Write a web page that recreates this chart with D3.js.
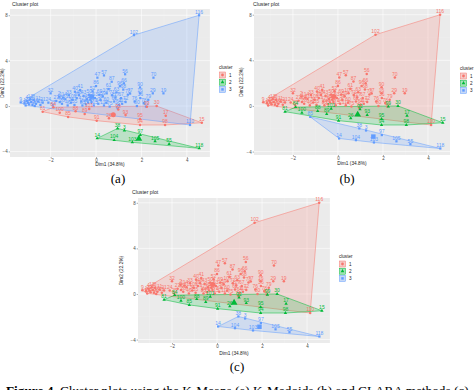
<!DOCTYPE html>
<html>
<head>
<meta charset="utf-8">
<script src="https://cdn.jsdelivr.net/npm/d3@7"></script>
<style>
  body { margin: 0; background: #fff; }
  svg { display: block; }
</style>
</head>
<body>
<script>
// observations: [row label, Dim1, Dim2]
var observations = [
  ["116", 4.54, 8.0], ["102", 1.67, 6.25], ["9", -3.32, 0.32], ["110", 4.14, -1.67],
  ["1", -3.15, 0.25], ["4", -3.05, 0.45], ["5", -2.95, 0.15], ["6", -2.85, 0.35],
  ["8", -2.75, 0.55], ["10", -2.65, 0.2], ["11", -2.55, 0.4], ["12", -3.1, 0.05],
  ["13", -2.9, 0.6], ["18", -2.45, 0.1], ["20", -2.7, 0.0], ["21", -2.35, 0.3],
  ["22", -3.0, 0.3], ["23", -2.8, 0.1], ["32", -2.0, 1.12], ["2", -1.62, 0.82],
  ["24", -2.1, 0.3], ["25", -1.9, 0.05], ["27", -1.75, 0.45], ["28", -1.5, 0.2],
  ["31", -1.35, 0.6], ["33", -1.2, 0.95], ["34", -1.1, 0.3], ["35", -0.95, 0.1],
  ["39", -0.85, 0.7], ["40", -0.93, 1.26], ["41", -0.7, 1.41], ["42", -0.65, 0.4],
  ["43", -0.55, 0.9], ["44", -0.45, 0.15], ["45", -0.4, 0.6], ["46", -1.25, 0.05],
  ["48", -0.75, 0.95], ["49", -1.6, 0.35], ["50", -0.3, 1.0], ["51", -0.2, 0.35],
  ["52", -0.15, 1.3], ["53", -0.05, 0.7], ["86", 0.0, 1.76], ["47", 0.06, 2.5],
  ["57", 0.35, 2.7], ["87", 0.69, 2.14], ["107", 0.47, 1.12], ["71", 0.7, 0.95],
  ["54", 0.1, 0.2], ["58", 0.2, 0.55], ["59", 0.3, 0.85], ["60", 0.45, 0.3],
  ["61", 0.55, 1.5], ["62", 0.8, 0.4], ["63", 0.9, 1.2], ["64", 1.0, 0.1],
  ["67", 1.1, 0.7], ["68", 1.2, 1.45], ["56", 1.28, 2.8], ["66", 1.23, 2.0],
  ["96", 1.05, 1.75], ["72", 1.3, 0.35], ["73", 1.4, 1.0], ["77", 1.5, 1.1],
  ["74", 0.95, -0.2], ["75", 0.6, -0.05], ["70", 2.53, 2.5], ["90", 1.94, 1.64],
  ["29", 2.5, 1.12], ["19", 2.97, 1.12], ["16", 1.94, 1.12], ["36", 1.95, 0.7],
  ["76", 1.7, 0.4], ["78", 2.1, 0.25], ["79", 2.3, 0.55], ["80", 1.8, 0.0],
  ["82", 2.2, -0.05], ["83", -0.6, 0.05], ["65", -0.25, 0.55], ["69", 0.15, 1.0],
  ["109", -1.05, 0.55], ["108", -0.35, 0.3], ["112", 0.35, 0.05], ["113", 1.15, 0.2],
  ["114", -1.45, 0.75], ["115", -0.1, 0.05], ["117", 0.85, 0.75],
  // middle band
  ["81", -2.35, -0.5], ["84", -1.88, -0.1], ["85", -1.23, -0.96], ["88", -0.9, -0.45],
  ["89", -0.5, -0.7], ["91", 0.03, -1.29], ["26", 0.57, -1.08], ["92", 0.98, -0.3],
  ["93", 1.3, -0.8], ["94", 1.94, -1.67], ["95", 1.94, -1.15], ["17", 3.07, -0.85],
  ["30", 2.67, 0.0], ["15", 4.66, -1.47], ["98", 3.04, -1.67], ["99", 2.24, -0.06],
  ["100", -1.6, -0.6], ["101", -0.3, -0.25],
  // lower group
  ["14", 0.05, -2.85], ["38", 0.95, -1.97], ["3", 1.25, -2.15], ["97", 1.95, -2.55],
  ["55", 3.22, -3.35], ["118", 4.55, -3.73], ["103", 1.6, -3.2], ["104", 0.8, -3.0],
  ["105", 2.6, -3.1]
];

// cluster membership per method, same order as observations
var kmeansCluster = [
  3,3,3,3,3,3,3,3,3,3,3,3,3,3,3,3,3,3,3,3,3,3,3,3,3,3,3,3,3,3,3,3,3,3,3,3,3,3,3,3,3,3,3,3,
  3,3,3,3,3,3,3,3,3,3,3,3,3,3,3,3,3,3,3,3,3,3,3,3,3,3,3,3,3,3,3,3,3,3,3,3,3,3,3,3,3,3,3,
  1,1,1,1,1,1,1,1,1,1,1,1,1,1,1,1,1,1,
  2,2,2,2,2,2,2,2,2
];
var kmedoidsCluster = [
  1,1,1,1,1,1,1,1,1,1,1,1,1,1,1,1,1,1,1,1,1,1,1,1,1,1,1,1,1,1,1,1,1,1,1,1,1,1,1,1,1,1,1,1,
  1,1,1,1,1,1,1,1,1,1,1,1,1,1,1,1,1,1,1,1,1,1,1,1,1,1,1,1,1,1,1,1,1,1,1,1,1,1,1,1,1,1,1,
  2,2,3,2,2,2,2,2,2,2,2,2,2,2,2,2,2,2,
  3,3,3,3,3,3,3,3,3
];
var claraCluster = [
  1,1,1,1,1,1,1,1,1,1,1,1,1,1,1,1,1,1,1,1,1,1,1,1,1,1,1,1,1,1,1,1,1,1,1,1,1,1,1,1,1,1,1,1,
  1,1,1,1,1,1,1,1,1,1,1,1,1,1,1,1,1,1,1,1,1,1,1,1,1,1,1,1,1,1,1,1,1,1,1,1,1,1,1,1,1,1,1,
  2,2,2,2,2,2,2,2,2,2,2,2,2,2,2,2,2,2,
  3,3,3,3,3,3,3,3,3
];

var clusterNames = ["1", "2", "3"];
var xTicks = [-2, 0, 2, 4];
var yTicks = [-4, 0, 4, 8];
var xMinor = [-3, -1, 1, 3, 5];
var yMinor = [-2, 2, 6];

var colors = ["#F8766D", "#00BA38", "#619CFF"];
var shapes = [d3.symbolCircle, d3.symbolTriangle, d3.symbolSquare];
var sans = "Liberation Sans, Arial, sans-serif";
var serif = "Liberation Serif, Times New Roman, serif";

var svg = d3.select("body").append("svg")
  .attr("width", 474)
  .attr("height", 390);

var panels = [
  { clusters: kmeansCluster, left: 10, right: 210, top: 9, bottom: 157,
    xDomain: [-3.79, 5.02], yDomain: [-4.49, 8.55],
    titleX: 12, titleY: 5.5, xTitleY: 166, yTitleX: 4,
    legendX: 219, legendY: 69, caption: "(a)", captionX: 118, captionY: 183 },
  { clusters: kmedoidsCluster, left: 254, right: 450, top: 9, bottom: 155,
    xDomain: [-3.73, 4.98], yDomain: [-4.3, 8.5],
    titleX: 253, titleY: 5.5, xTitleY: 165, yTitleX: 243,
    legendX: 460, legendY: 70, caption: "(b)", captionX: 347, captionY: 183 },
  { clusters: claraCluster, left: 138, right: 330, top: 198, bottom: 343,
    xDomain: [-3.51, 5.02], yDomain: [-4.3, 8.42],
    titleX: 132, titleY: 194, xTitleY: 355, yTitleX: 123,
    legendX: 339, legendY: 258, caption: "(c)", captionX: 237, captionY: 371 }
];

panels.forEach(function(p) { drawPanel(p); });

function drawPanel(p) {
  var x = d3.scaleLinear().domain(p.xDomain).range([p.left, p.right]);
  var y = d3.scaleLinear().domain(p.yDomain).range([p.bottom, p.top]);
  var g = svg.append("g");

  g.append("rect")
    .attr("x", p.left).attr("y", p.top)
    .attr("width", p.right - p.left).attr("height", p.bottom - p.top)
    .attr("fill", "#EBEBEB");

  // grid
  g.selectAll(".vminor").data(xMinor.filter(d => d > p.xDomain[0] && d < p.xDomain[1]))
    .enter().append("line")
    .attr("x1", d => x(d)).attr("x2", d => x(d))
    .attr("y1", p.top).attr("y2", p.bottom)
    .attr("stroke", "#F5F5F5").attr("stroke-width", 0.3);
  g.selectAll(".hminor").data(yMinor.filter(d => d > p.yDomain[0] && d < p.yDomain[1]))
    .enter().append("line")
    .attr("y1", d => y(d)).attr("y2", d => y(d))
    .attr("x1", p.left).attr("x2", p.right)
    .attr("stroke", "#F5F5F5").attr("stroke-width", 0.3);
  g.selectAll(".vmajor").data(xTicks)
    .enter().append("line")
    .attr("x1", d => x(d)).attr("x2", d => x(d))
    .attr("y1", p.top).attr("y2", p.bottom)
    .attr("stroke", "#fff").attr("stroke-width", 0.6);
  g.selectAll(".hmajor").data(yTicks)
    .enter().append("line")
    .attr("y1", d => y(d)).attr("y2", d => y(d))
    .attr("x1", p.left).attr("x2", p.right)
    .attr("stroke", "#fff").attr("stroke-width", 0.6);

  // convex hulls
  clusterNames.forEach(function(c, ci) {
    var pts = observations.filter((d, i) => p.clusters[i] == ci + 1)
      .map(d => [x(d[1]), y(d[2])]);
    var hull = d3.polygonHull(pts);
    g.append("path")
      .attr("d", "M" + hull.join("L") + "Z")
      .attr("fill", colors[ci]).attr("fill-opacity", 0.2)
      .attr("stroke", colors[ci]).attr("stroke-width", 0.5);
  });

  // points
  g.selectAll(".pt").data(observations).enter().append("path")
    .attr("transform", d => "translate(" + x(d[1]) + "," + y(d[2]) + ")")
    .attr("d", (d, i) => d3.symbol().type(shapes[p.clusters[i] - 1]).size(5)())
    .attr("fill", (d, i) => colors[p.clusters[i] - 1]);

  // labels
  g.selectAll(".lab").data(observations).enter().append("text")
    .attr("x", d => x(d[1]))
    .attr("y", d => y(d[2]) - 1.6)
    .attr("text-anchor", "middle")
    .attr("font-family", sans)
    .attr("font-size", 5)
    .attr("fill", (d, i) => colors[p.clusters[i] - 1])
    .text(d => d[0]);

  // cluster centres
  clusterNames.forEach(function(c, ci) {
    var members = observations.filter((d, i) => p.clusters[i] == ci + 1);
    var cx = d3.mean(members, d => d[1]);
    var cy = d3.mean(members, d => d[2]);
    g.append("path")
      .attr("transform", "translate(" + x(cx) + "," + y(cy) + ")")
      .attr("d", d3.symbol().type(shapes[ci]).size(20)())
      .attr("fill", colors[ci]);
  });

  // axes
  var xAxis = d3.axisBottom(x).tickValues(xTicks).tickSize(1.3).tickPadding(1);
  var yAxis = d3.axisLeft(y).tickValues(yTicks).tickSize(1.3).tickPadding(1);
  [[xAxis, "translate(0," + p.bottom + ")"], [yAxis, "translate(" + p.left + ",0)"]].forEach(function(a) {
    g.append("g").attr("transform", a[1]).call(a[0])
      .call(s => s.select(".domain").remove())
      .call(s => s.selectAll("line").attr("stroke", "#333").attr("stroke-width", 0.4))
      .call(s => s.selectAll("text").attr("font-size", 4.5).attr("font-family", sans).attr("fill", "#4D4D4D"));
  });

  g.append("text")
    .attr("x", (p.left + p.right) / 2).attr("y", p.xTitleY)
    .attr("text-anchor", "middle").attr("font-family", sans).attr("font-size", 4.8)
    .attr("fill", "#222").text("Dim1 (34.8%)");
  g.append("text")
    .attr("transform", "translate(" + p.yTitleX + "," + (p.top + p.bottom) / 2 + ") rotate(-90)")
    .attr("text-anchor", "middle").attr("font-family", sans).attr("font-size", 4.8)
    .attr("fill", "#222").text("Dim2 (22.2%)");
  g.append("text")
    .attr("x", p.titleX).attr("y", p.titleY)
    .attr("font-family", sans).attr("font-size", 5.2)
    .attr("fill", "#222").text("Cluster plot");

  // legend
  var lg = g.append("g").attr("transform", "translate(" + p.legendX + "," + p.legendY + ")");
  lg.append("text").attr("x", 0).attr("y", 0)
    .attr("font-family", sans).attr("font-size", 4.6).attr("fill", "#222").text("cluster");
  clusterNames.forEach(function(c, ci) {
    var ky = 3 + ci * 7.2;
    lg.append("rect").attr("x", 0.5).attr("y", ky).attr("width", 6).attr("height", 6)
      .attr("fill", "#F2F2F2");
    lg.append("rect").attr("x", 0.5).attr("y", ky).attr("width", 6).attr("height", 6)
      .attr("fill", colors[ci]).attr("fill-opacity", 0.3)
      .attr("stroke", colors[ci]).attr("stroke-width", 0.5);
    lg.append("path")
      .attr("transform", "translate(3.5," + (ky + 3) + ")")
      .attr("d", d3.symbol().type(shapes[ci]).size(6)())
      .attr("fill", colors[ci]);
    lg.append("text").attr("x", 10).attr("y", ky + 4.6)
      .attr("font-family", sans).attr("font-size", 4.6).attr("fill", "#222").text(c);
  });

  // sub-caption
  svg.append("text")
    .attr("x", p.captionX).attr("y", p.captionY)
    .attr("text-anchor", "middle").attr("font-family", serif).attr("font-size", 13)
    .attr("fill", "#000").text(p.caption);
}

// figure caption (cut at the bottom edge)
var cap = svg.append("text")
  .attr("x", 6).attr("y", 395)
  .attr("font-family", serif).attr("font-size", 13)
  .attr("textLength", 466).attr("lengthAdjust", "spacingAndGlyphs")
  .attr("fill", "#000");
cap.append("tspan").attr("font-weight", "bold").text("Figure 4.");
cap.append("tspan").text(" Cluster plots using the K-Means (a) K-Medoids (b) and CLARA methods (c).");
</script>
</body>
</html>
